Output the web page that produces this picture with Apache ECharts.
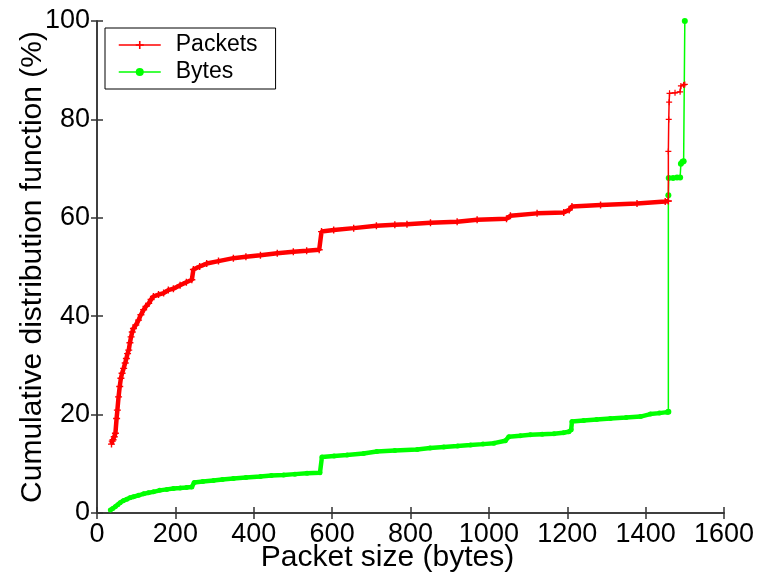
<!DOCTYPE html>
<html>
<head>
<meta charset="utf-8">
<script src="https://cdn.jsdelivr.net/npm/echarts@6/dist/echarts.min.js"></script>
<style>
html,body{margin:0;padding:0;background:#fff;}
#c{width:757px;height:579px;}
</style>
</head>
<body>
<div id="c"></div>
<script>
// ---- data ----
const xTicks = [0, 200, 400, 600, 800, 1000, 1200, 1400, 1600];
const yTicks = [0, 20, 40, 60, 80, 100];

const packetSize = [37,39,41,44,47,50,52,55,58,61,64,68,72,75,78,81,84,87,90,93,99,106,112,119,125,132,138,144,157,170,182,195,212,228,242,246,262,280,310,348,380,417,460,501,535,567,573,604,655,713,760,791,851,919,970,1045,1055,1123,1191,1205,1212,1285,1378,1450,1458,
  1458,1459,1460,1461,1475,1488,1490,1497,1500];
const packetPct = [14.0,14.6,14.9,15.5,16.2,19.2,20.9,23.6,25.7,27.4,28.4,29.4,30.5,31.4,32.4,33.1,34.6,35.8,36.8,37.5,38.2,39.2,40.3,41.3,42.0,42.6,43.4,44.0,44.4,44.7,45.3,45.6,46.3,46.9,47.4,49.5,50.1,50.7,51.2,51.8,52.1,52.4,52.8,53.1,53.3,53.5,57.2,57.5,57.9,58.4,58.6,58.7,59.0,59.2,59.6,59.8,60.4,60.9,61.1,61.6,62.3,62.6,62.9,63.3,63.4,
  73.5,80.0,83.5,85.3,85.4,85.6,86.8,87.0,87.1];

const byteSize = [34,40,47,53,59,67,76,84,93,106,119,131,144,160,178,195,212,228,242,248,270,297,320,348,380,417,445,476,505,536,569,574,605,638,680,714,760,817,850,885,920,953,985,1013,1042,1051,1080,1106,1136,1166,1190,1204,1210,1212,1242,1275,1310,1350,1387,1412,1435,1455,1458,
  1458,1459,1470,1480,1488,1490,1494,1497,1500];
const bytePct = [0.6,0.9,1.3,1.7,2.1,2.5,2.8,3.1,3.3,3.6,3.9,4.1,4.3,4.6,4.8,5.0,5.1,5.2,5.3,6.2,6.4,6.6,6.8,7.0,7.2,7.4,7.6,7.7,7.9,8.1,8.2,11.4,11.6,11.8,12.1,12.5,12.7,12.9,13.2,13.4,13.6,13.8,14.0,14.2,14.7,15.5,15.7,15.9,16.0,16.1,16.3,16.5,16.9,18.6,18.8,19.0,19.2,19.4,19.6,20.1,20.3,20.5,20.6,
  64.6,68.1,68.1,68.2,68.2,71.0,71.4,71.5,100];

const jumpSize = 1458; // packet size where both curves jump sharply

// ---- build ----
function split(xs, ys) {
  const pts = xs.map((x, i) => [x, ys[i]]);
  const k = pts.findIndex(p => p[0] >= jumpSize);
  return { body: pts.slice(0, k + 1), tail: pts.slice(k) };
}
const P = split(packetSize, packetPct);
const B = split(byteSize, bytePct);

const FONT = '"Liberation Sans", Arial, sans-serif';
const RED = '#ff0000', GREEN = '#00ff00';
const PLUS = 'path://M4,0H6V4H10V6H6V10H4V6H0V4H4Z';
const axisLine = { show: true, lineStyle: { color: '#333', width: 1.5 } };
const tick = { show: true, inside: true, length: 6, lineStyle: { color: '#333', width: 1.5 } };

const chart = echarts.init(document.getElementById('c'), null, { renderer: 'canvas' });
chart.setOption({
  backgroundColor: '#fff',
  animation: false,
  grid: { left: 97, right: 33, top: 21, bottom: 66, containLabel: false, outerBoundsMode: 'none' },
  legend: {
    orient: 'vertical', left: 105, top: 28,
    padding: [4, 18, 4, 13],
    borderColor: '#000', borderWidth: 1, backgroundColor: '#fff',
    itemWidth: 42, itemHeight: 10, itemGap: 1,
    textStyle: { fontFamily: FONT, fontSize: 23, color: '#000', lineHeight: 26, padding: [0, 0, 0, 10] },
    data: [
      { name: 'Packets', lineStyle: { width: 1.5 } },
      { name: 'Bytes', lineStyle: { width: 1.5 } }
    ]
  },
  xAxis: [{
    type: 'value', min: 0, max: 1600, interval: 200, position: 'bottom',
    axisLine, axisTick: tick, splitLine: { show: false },
    axisLabel: { fontFamily: FONT, fontSize: 27, color: '#000', margin: 8,
      formatter: v => xTicks.includes(v) ? String(v) : '' },
    name: 'Packet size (bytes)', nameLocation: 'middle', nameGap: 30, nameMoveOverlap: false,
    nameTextStyle: { fontFamily: FONT, fontSize: 30, color: '#000', padding: [0, 46, 0, 0] }
  }, {
    type: 'value', min: 0, max: 1600, interval: 200, position: 'top',
    axisLine, axisTick: tick, splitLine: { show: false }, axisLabel: { show: false }
  }],
  yAxis: [{
    type: 'value', min: 0, max: 100, interval: 20, position: 'left',
    axisLine, axisTick: tick, splitLine: { show: false },
    axisLabel: { fontFamily: FONT, fontSize: 27, color: '#000', margin: 7,
      formatter: v => yTicks.includes(v) ? String(v) : '' },
    name: 'Cumulative distribution function (%)', nameLocation: 'middle', nameGap: 49, nameMoveOverlap: false,
    nameTextStyle: { fontFamily: FONT, fontSize: 30, color: '#000' }
  }, {
    type: 'value', min: 0, max: 100, interval: 20, position: 'right',
    axisLine, axisTick: tick, splitLine: { show: false }, axisLabel: { show: false }
  }],
  series: [
    { name: 'Packets', type: 'line', data: P.body,
      lineStyle: { color: RED, width: 4.5 }, itemStyle: { color: RED },
      symbol: PLUS, symbolSize: 7, showSymbol: true, showAllSymbol: true, z: 3 },
    { name: 'Packets', type: 'line', data: P.tail,
      lineStyle: { color: RED, width: 1.5 }, itemStyle: { color: RED },
      symbol: PLUS, symbolSize: 6, showSymbol: true, showAllSymbol: true, z: 3 },
    { name: 'Bytes', type: 'line', data: B.body,
      lineStyle: { color: GREEN, width: 4.5 }, itemStyle: { color: GREEN },
      symbol: 'circle', symbolSize: 5, showSymbol: true, showAllSymbol: true, z: 2 },
    { name: 'Bytes', type: 'line', data: B.tail,
      lineStyle: { color: GREEN, width: 1.5 }, itemStyle: { color: GREEN },
      symbol: 'circle', symbolSize: 6, showSymbol: true, showAllSymbol: true, z: 2 }
  ]
});
</script>
</body>
</html>
